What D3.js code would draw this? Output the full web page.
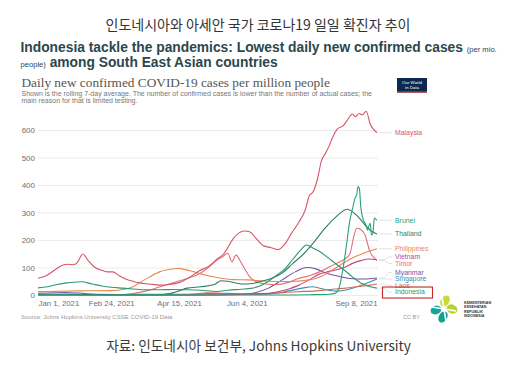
<!DOCTYPE html>
<html>
<head>
<meta charset="utf-8">
<script src="https://cdn.jsdelivr.net/npm/d3@7"></script>
<style>
  body { margin: 0; background: #fff; }
  svg { display: block; font-family: "Liberation Sans", Arial, sans-serif; }
  .grid line { stroke: #ebebeb; }
  .grid text, .xaxis text { fill: #6f6f6f; }
</style>
</head>
<body>
<div id="chart"></div>
<script>
// daily new cases per million, 7-day avg: [days since Jan 1 2021, value]
var malaysia = [[0,61],[6,70],[12,90],[18,108],[22,112],[26,110],[29,118],[33,149],[37,125],[42,100],[47,90],[51,84],[55,84],[60,70],[65,57],[70,50],[75,44],[82,40],[90,36],[97,38],[104,45],[111,62],[119,88],[126,105],[132,130],[137,150],[144,205],[148,225],[152,233],[156,230],[161,205],[166,180],[172,172],[177,165],[182,185],[187,225],[192,262],[197,308],[200,360],[203,376],[206,420],[209,488],[212,515],[215,545],[217,570],[221,605],[225,615],[228,635],[232,658],[234,648],[237,660],[239,655],[242,668],[245,622],[247,605],[250,590]];
var brunei = [[0,1],[30,0],[60,0],[90,1],[120,0],[150,0],[180,0],[200,1],[215,3],[219,6],[222,25],[224,70],[226,130],[228,200],[230,272],[232,315],[234,355],[235,363],[236,394],[237,388],[238,321],[240,272],[241,262],[242,254],[243,236],[244,250],[245,261],[246,218],[247,225],[248,280],[249,276],[250,272]];
var thailand = [[0,4],[15,3],[30,2],[60,1],[90,1],[97,5],[104,15],[110,25],[120,30],[130,38],[135,52],[140,50],[150,40],[158,42],[165,50],[172,60],[180,80],[188,115],[196,150],[204,195],[212,245],[220,285],[228,312],[236,285],[242,250],[246,232],[250,222]];
var philippines = [[0,12],[30,15],[53,16],[65,22],[70,30],[75,45],[82,65],[90,85],[100,95],[104,97],[112,88],[124,72],[134,62],[144,56],[155,55],[170,50],[185,49],[200,55],[210,70],[220,100],[230,130],[240,152],[250,168]];
var vietnam = [[0,0],[60,0],[120,0],[130,1],[145,3],[155,4],[165,5],[175,10],[185,22],[192,35],[200,55],[207,75],[214,85],[220,92],[226,100],[232,115],[238,125],[244,131],[250,128]];
var timor = [[0,0],[60,0],[70,5],[80,15],[90,30],[100,45],[110,60],[120,80],[128,110],[132,127],[136,139],[140,152],[143,121],[146,145],[150,116],[153,90],[156,67],[161,48],[168,40],[176,38],[184,45],[192,60],[200,70],[208,85],[214,100],[220,115],[226,130],[230,150],[233,215],[235,243],[238,238],[241,220],[245,155],[248,135],[250,125]];
var myanmar = [[0,12],[15,10],[30,7],[45,2],[60,1],[90,0],[120,0],[150,2],[160,8],[170,25],[180,55],[190,85],[198,100],[205,95],[212,80],[220,70],[230,60],[240,58],[250,62]];
var singapore = [[0,3],[30,3],[60,2],[90,3],[110,3],[125,5],[140,6],[155,3],[170,4],[185,15],[195,25],[202,30],[210,22],[220,14],[230,22],[240,38],[250,58]];
var laos = [[0,0],[100,0],[110,1],[115,3],[125,8],[135,6],[150,3],[170,5],[190,12],[205,15],[215,20],[225,24],[235,30],[245,36],[250,40]];
var indonesia = [[0,26],[7,30],[14,38],[21,44],[28,47],[32,48],[40,40],[47,33],[54,28],[62,25],[70,22],[80,19],[90,19],[100,20],[110,19],[120,17],[132,13],[140,17],[150,21],[157,24],[163,32],[170,50],[176,72],[182,95],[188,130],[194,165],[198,182],[203,170],[208,157],[214,135],[220,112],[226,90],[232,65],[238,44],[244,32],[250,25]];

var countries = ["Malaysia", "Brunei", "Thailand", "Philippines", "Vietnam", "Timor", "Myanmar", "Singapore", "Laos", "Indonesia"];
var seriesValues = [malaysia, brunei, thailand, philippines, vietnam, timor, myanmar, singapore, laos, indonesia];
var colors = ["#d85468", "#25a27a", "#2b7d6c", "#e8894c", "#c5448f", "#e26f7e", "#74559f", "#3a8db6", "#da6a4c", "#2e9a6a"];
var yTicks = [0, 100, 200, 300, 400, 500, 600];
var xTickDates = ["2021-01-01", "2021-02-24", "2021-04-15", "2021-06-04", "2021-09-08"];

var startDate = new Date(2021, 0, 1);
var endDate = new Date(2021, 8, 8);
var parseDay = d3.timeParse("%Y-%m-%d");

var svg = d3.select("#chart").append("svg")
    .attr("width", 531)
    .attr("height", 370);

// headline texts
svg.append("text")
    .attr("x", 258).attr("y", 30)
    .attr("text-anchor", "middle")
    .style("font-family", "'Noto Sans CJK KR', sans-serif")
    .style("font-size", "14px")
    .style("fill", "#333")
    .text("인도네시아와 아세안 국가 코로나19 일일 확진자 추이");

var head1 = svg.append("text")
    .attr("x", 20.5).attr("y", 51.5)
    .style("fill", "#2c474c");
head1.append("tspan").style("font-weight", "bold").style("font-size", "13.8px")
    .text("Indonesia tackle the pandemics: Lowest daily new confirmed cases ");
head1.append("tspan").style("font-size", "7.6px").text("(per mio.");

var head2 = svg.append("text")
    .attr("x", 20.5).attr("y", 66.5)
    .style("fill", "#2c474c");
head2.append("tspan").style("font-size", "7.6px").text("people)");
head2.append("tspan").style("font-weight", "bold").style("font-size", "13.8px")
    .text(" among South East Asian countries");

// chart title block
svg.append("text")
    .attr("x", 21.5).attr("y", 87)
    .style("font-family", "'Liberation Serif', 'Times New Roman', serif")
    .style("font-size", "13.3px")
    .style("fill", "#555")
    .text("Daily new confirmed COVID-19 cases per million people");

svg.append("text")
    .attr("x", 21.5).attr("y", 95.5)
    .style("font-size", "7px").style("fill", "#777")
    .text("Shown is the rolling 7-day average. The number of confirmed cases is lower than the number of actual cases; the");
svg.append("text")
    .attr("x", 21.5).attr("y", 103)
    .style("font-size", "7px").style("fill", "#777")
    .text("main reason for that is limited testing.");

// OWID logo
var logo = svg.append("g").attr("transform", "translate(397,78)");
logo.append("rect").attr("width", 30).attr("height", 14.5).attr("fill", "#0c2a4f");
logo.append("rect").attr("y", 13.2).attr("width", 30).attr("height", 1.3).attr("fill", "#ce261e");
logo.append("text").attr("x", 15).attr("y", 6).attr("text-anchor", "middle")
    .style("font-size", "4.4px").style("fill", "#fff").text("Our World");
logo.append("text").attr("x", 15).attr("y", 11).attr("text-anchor", "middle")
    .style("font-size", "4.4px").style("fill", "#fff").text("in Data");

// scales
var x = d3.scaleTime().domain([startDate, endDate]).range([38, 377]);
var y = d3.scaleLinear().domain([0, 600]).range([295, 130]);

// y grid + labels
svg.append("g")
    .attr("class", "grid")
    .attr("transform", "translate(38,0)")
    .call(d3.axisLeft(y).tickValues(yTicks).tickSize(-340).tickPadding(3))
    .call(function (g) { g.select(".domain").remove(); })
    .selectAll("text")
    .style("font-size", "8px")
    .style("font-family", "'Liberation Sans', Arial, sans-serif");

// x axis labels
var xAxis = svg.append("g")
    .attr("class", "xaxis")
    .attr("transform", "translate(0,295)")
    .call(d3.axisBottom(x).tickValues(xTickDates.map(parseDay)).tickSize(0).tickPadding(5)
        .tickFormat(d3.timeFormat("%b %-d, %Y")));
xAxis.select(".domain").remove();
xAxis.selectAll("text")
    .style("font-size", "7.8px")
    .style("font-family", "'Liberation Sans', Arial, sans-serif")
    .attr("text-anchor", function (d, i) {
        if (i === 0) return "start";
        if (i === xTickDates.length - 1) return "end";
        return "middle";
    });

// lines
var line = d3.line()
    .x(function (d) { return x(d3.timeDay.offset(startDate, d[0])); })
    .y(function (d) { return y(d[1]); })
    .curve(d3.curveMonotoneX);

var order = [6, 7, 8, 5, 4, 3, 9, 2, 1, 0];
order.forEach(function (i) {
    svg.append("path")
        .datum(seriesValues[i])
        .attr("fill", "none")
        .attr("stroke", colors[i])
        .attr("stroke-width", 1.1)
        .attr("stroke-linejoin", "round")
        .attr("d", line);
});

// end labels, spread so they don't overlap
var labels = countries.map(function (name, i) {
    var last = seriesValues[i][seriesValues[i].length - 1];
    return { name: name, color: colors[i], end: y(last[1]), target: y(last[1]) };
});

function spreadLabels(items, gap) {
    items.sort(function (a, b) { return a.target - b.target; });
    var groups = items.map(function (d) { return { members: [d], center: d.target }; });
    var merged = true;
    while (merged) {
        merged = false;
        for (var i = 0; i < groups.length - 1; i++) {
            var a = groups[i], b = groups[i + 1];
            var aBottom = a.center + (a.members.length - 1) * gap / 2;
            var bTop = b.center - (b.members.length - 1) * gap / 2;
            if (bTop - aBottom < gap) {
                var members = a.members.concat(b.members);
                groups.splice(i, 2, { members: members, center: d3.mean(members, function (m) { return m.target; }) });
                merged = true;
                break;
            }
        }
    }
    groups.forEach(function (g) {
        g.members.forEach(function (m, k) {
            m.y = g.center + (k - (g.members.length - 1) / 2) * gap;
        });
    });
}
spreadLabels(labels, 6.5);

labels.forEach(function (d) {
    svg.append("path")
        .attr("d", "M379," + d.end + "H384L389," + d.y + "H392")
        .attr("fill", "none")
        .attr("stroke", "#cfcfcf")
        .attr("stroke-width", 0.6);
    svg.append("text")
        .attr("x", 395).attr("y", d.y).attr("dy", "0.35em")
        .style("font-size", "6.9px")
        .style("fill", d.color)
        .text(d.name);
});

// box around Indonesia
var indo = labels.filter(function (d) { return d.name === "Indonesia"; })[0];
svg.append("rect")
    .attr("x", 382.5).attr("y", indo.y - 5)
    .attr("width", 50).attr("height", 11)
    .attr("fill", "none")
    .attr("stroke", "#c0282d")
    .attr("stroke-width", 1.1);

// source + licence
svg.append("text")
    .attr("x", 21).attr("y", 318.5)
    .style("font-size", "6px").style("fill", "#999")
    .text("Source: Johns Hopkins University CSSE COVID-19 Data");
svg.append("text")
    .attr("x", 403).attr("y", 318.5)
    .style("font-size", "5.5px").style("fill", "#999")
    .text("CC BY");

// ministry of health logo (rough)
var moh = svg.append("g").attr("transform", "translate(444,309)");
moh.append("ellipse").attr("cx", -8).attr("cy", 1).attr("rx", 5.5).attr("ry", 4.2)
    .attr("fill", "#1aa39a").attr("transform", "rotate(-20,-8,1)");
moh.append("ellipse").attr("cx", 1).attr("cy", -8).attr("rx", 4.2).attr("ry", 6)
    .attr("fill", "#c9d938").attr("transform", "rotate(35,1,-8)");
moh.append("ellipse").attr("cx", 8).attr("cy", 0).attr("rx", 5.5).attr("ry", 4.5)
    .attr("fill", "#b9d232").attr("transform", "rotate(25,8,0)");
moh.append("ellipse").attr("cx", -1).attr("cy", 8).attr("rx", 4.2).attr("ry", 6)
    .attr("fill", "#14a08f").attr("transform", "rotate(30,-1,8)");
moh.append("path").attr("d", "M-2,-12L2,12M-12,-2L12,2").attr("stroke", "#fff").attr("stroke-width", 1.6);
["KEMENTERIAN", "KESEHATAN", "REPUBLIK", "INDONESIA"].forEach(function (t, i) {
    svg.append("text")
        .attr("x", 464).attr("y", 303.5 + i * 4.6)
        .style("font-size", "3.7px").style("font-weight", "bold").style("fill", "#333")
        .text(t);
});

// bottom caption
svg.append("text")
    .attr("x", 258.5).attr("y", 350.5)
    .attr("text-anchor", "middle")
    .style("font-family", "'Noto Sans CJK KR', sans-serif")
    .style("font-size", "13.7px")
    .style("fill", "#3a3a3a")
    .text("자료: 인도네시아 보건부, Johns Hopkins University");
</script>
</body>
</html>
